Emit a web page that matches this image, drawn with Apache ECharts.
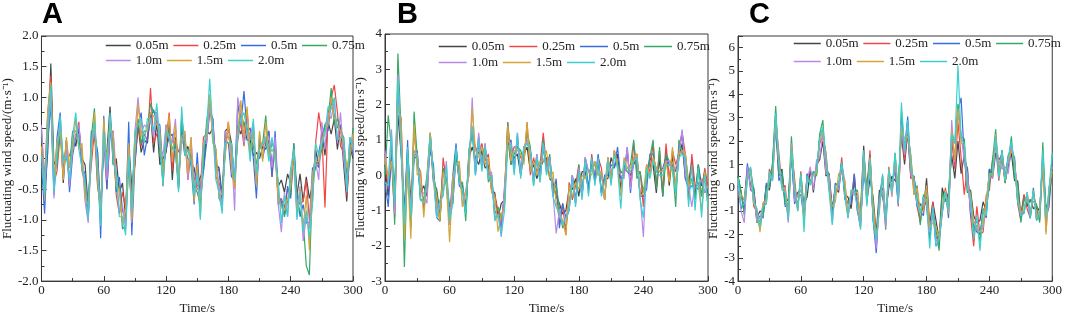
<!DOCTYPE html>
<html lang="en">
<head>
<meta charset="UTF-8">
<title>Fluctuating wind speed</title>
<script src="https://cdn.jsdelivr.net/npm/echarts@6/dist/echarts.min.js"></script>
<style>
    html, body { margin: 0; padding: 0; background: #fff; }
    #chart { width: 1065px; height: 320px; }
</style>
</head>
<body>
<div id="chart"></div>
<script>
// heights of the measuring points, same for the three panels
const heights = ['0.05m', '0.25m', '0.5m', '0.75m', '1.0m', '1.5m', '2.0m'];
const colors = ['#454545', '#f04646', '#3a6ee0', '#36a866', '#b88ae8', '#d6a536', '#3ccfd0'];

// time axis, s
const time = [0,3,6,9,12,15,18,21,24,27,30,33,36,39,42,45,48,51,54,57,60,63,66,69,72,75,78,81,84,87,
    90,93,96,99,102,105,108,111,114,117,120,123,126,129,132,135,138,141,144,147,150,153,156,159,162,165,168,171,174,177,
    180,183,186,189,192,195,198,201,204,207,210,213,216,219,222,225,228,231,234,237,240,243,246,249,252,255,258,261,264,267,
    270,273,276,279,282,285,288,291,294,297,300];

// panel A
const a005 = [0.35,-0.55,0.1,1.55,-0.1,0.0,0.55,-0.4,0.3,-0.45, 0.4,0.2,0.5,0.0,-0.1,-0.8,0.2,0.35,0.1,-0.85,
    0.2,0.1,0.85,-0.1,0.0,-0.55,-0.4,-0.95,0.2,-0.45, -0.1,0.55,0.1,0.3,0.25,0.75,0.1,0.6,-0.1,0.0,
    0.1,0.55,-0.35,0.35,-0.5,0.5,0.05,0.2,-0.1,-0.15, -0.45,-0.3,-0.2,0.45,0.4,0.5,-0.1,-0.15,-0.6,0.45,
    0.5,0.25,-0.45,0.55,0.4,0.6,0.3,0.3,0.05,0.1, 0.0,0.2,0.15,0.3,-0.1,0.1,-0.45,-0.35,-0.55,-0.25,
    -0.4,0.05,-0.6,-0.25,-0.7,-0.3,-0.65,-0.45,0.15,-0.15, 0.45,0.05,0.6,0.4,0.65,0.15,0.55,-0.1,-0.7,0.2,0.0];
const a025 = [0.15,-0.3,0.75,1.35,-0.4,-0.2,0.4,-0.05,0.0,0.05, 0.2,0.35,0.6,-0.2,-0.4,-0.7,-0.1,0.45,-0.45,-0.8,
    0.3,-0.5,0.4,0.45,-0.6,-0.9,-0.55,-0.8,0.0,-0.55, 0.1,0.55,0.2,0.4,0.3,1.15,0.25,0.4,0.45,-0.45,
    0.3,0.75,-0.2,0.3,0.1,0.25,0.4,-0.35,0.1,-0.3, -0.5,-0.5,0.35,0.4,0.8,0.65,-0.3,-0.4,-0.55,0.1,
    0.6,-0.1,-0.35,0.3,0.6,0.2,0.8,0.1,0.5,-0.4, 0.2,0.2,0.3,0.45,-0.3,0.25,-0.75,-0.65,-0.8,-0.5,
    -0.6,0.1,-0.6,-0.75,-0.7,-0.35,-1.0,-0.7,0.25,0.75, 0.4,-0.8,0.7,1.0,1.2,0.75,0.2,0.1,-0.6,0.1,0.25];
const a05 = [-0.1,-0.9,0.25,0.9,-0.6,0.35,0.75,-0.25,0.3,-0.55, 0.05,0.35,0.5,-0.15,-0.25,-1.0,0.45,0.45,0.1,-1.3,
    0.7,-0.5,0.4,0.3,-0.55,-0.3,-0.85,-1.0,0.6,-1.25, -0.05,0.55,0.75,0.05,0.35,0.65,0.8,0.6,0.55,-0.2,
    0.15,0.35,0.4,0.1,-0.45,0.7,0.2,0.0,-0.1,-0.75, 0.1,-0.7,-0.2,0.25,0.75,0.65,-0.1,-0.2,-0.7,0.3,
    0.25,-0.3,-0.35,0.9,0.55,1.1,0.45,0.5,0.0,-0.65, 0.4,0.0,0.25,0.45,-0.3,0.45,-0.6,-0.7,-0.9,-0.45,
    -0.65,0.25,-0.55,-0.95,-0.75,-1.05,-1.05,-0.15,-0.15,0.1, 0.35,0.55,0.45,0.95,0.7,0.5,0.55,0.2,-0.45,0.3,0.05];
const a075 = [0.45,-0.35,0.3,1.05,-0.3,-0.05,0.45,0.0,0.0,-0.15, 0.45,0.45,0.35,-0.1,-0.45,-1.0,0.35,0.82,-0.4,-0.85,
    0.3,0.0,0.55,0.35,-0.5,-0.45,-1.15,-1.1,-0.15,-0.75, 0.35,0.65,0.25,0.45,0.45,0.9,0.75,0.75,0.1,-0.35,
    0.55,0.45,0.15,0.25,-0.45,0.65,0.25,0.1,0.15,-0.45, -0.55,-0.75,-0.05,0.6,0.95,0.35,0.15,-0.65,-0.75,0.35,
    0.35,0.25,-0.45,0.35,0.75,0.55,0.5,0.35,0.2,-0.1, 0.25,0.25,0.7,0.05,0.25,0.15,-0.65,-0.75,-0.95,-0.7,
    -0.55,0.25,-0.75,-0.85,-1.0,-1.75,-1.9,-0.35,-0.15,-0.1, 0.15,0.55,0.65,1.15,0.55,0.65,0.45,0.35,-0.25,-0.05,0.5];
const a10 = [0.55,-0.4,0.45,1.0,-0.65,0.25,0.55,-0.3,0.25,-0.45, 0.15,0.4,0.55,0.0,-0.7,-1.05,0.15,0.5,-0.1,-0.85,
    0.35,-0.35,0.45,0.45,-0.25,-0.85,-0.75,-1.15,0.2,-1.05, 0.45,1.0,0.4,0.55,0.5,0.65,0.35,0.75,0.2,0.05,
    0.55,0.35,0.25,0.65,-0.3,0.25,0.45,-0.35,0.35,-0.4, -0.35,-0.65,0.25,0.25,0.85,0.55,-0.15,-0.45,-0.85,0.45,
    0.35,0.15,-0.85,1.0,0.75,0.25,0.45,0.35,0.6,-0.35, 0.15,0.25,0.35,0.35,-0.15,0.35,-0.75,-1.2,-0.55,-0.95,
    -0.15,-0.15,-0.85,-0.45,-1.35,-0.95,-1.15,-0.25,-0.05,-0.35, 0.6,0.15,0.75,0.65,0.95,0.25,0.75,0.0,-0.45,0.35,0.15];
const a15 = [0.2,-0.65,0.75,1.25,-0.3,0.25,0.45,-0.35,0.35,-0.15, 0.15,0.65,0.15,0.25,-0.65,-0.75,0.05,0.75,-0.35,-0.9,
    0.65,-0.05,0.55,0.35,-0.45,-0.5,-1.05,-0.85,0.25,-1.0, 0.05,0.9,0.35,0.45,0.45,0.75,0.7,0.55,0.45,-0.25,
    0.25,0.7,-0.05,0.55,-0.35,0.35,0.45,-0.25,0.35,-0.7, -0.1,-0.95,0.25,0.35,1.05,0.25,0.15,-0.65,-0.55,0.05,
    0.6,-0.15,-0.5,0.45,0.95,0.35,0.85,0.05,0.55,-0.45, 0.45,-0.05,0.6,0.05,0.15,0.05,-0.65,-0.8,-0.85,-0.65,
    -0.45,0.15,-0.95,-0.5,-1.15,-0.6,-1.5,-0.25,-0.05,-0.05, 0.3,0.45,0.55,1.0,0.65,0.55,0.45,0.25,-0.15,0.05,0.4];
const a20 = [0.05,-0.6,0.55,1.2,-0.55,0.05,0.7,-0.05,0.05,-0.35, 0.35,0.75,0.15,-0.15,-0.35,-1.0,0.25,0.6,-0.15,-1.1,
    0.45,-0.15,0.75,-0.05,-0.25,-0.95,-0.95,-1.25,0.05,-0.85, 0.45,0.55,0.65,0.25,0.65,0.65,0.45,0.9,0.3,-0.45,
    0.45,0.35,0.15,0.15,-0.55,0.85,0.05,0.15,-0.05,-0.6, -0.25,-1.0,0.15,0.45,1.3,0.45,-0.35,-0.55,-0.9,0.25,
    0.25,0.25,-0.35,0.35,0.65,0.75,0.45,-0.05,0.65,-0.25, 0.15,0.25,0.35,-0.05,0.35,-0.05,-0.35,-1.05,-0.6,-0.95,
    -0.15,0.15,-1.0,-0.55,-1.2,-0.85,-1.3,-0.75,0.25,0.05, 0.25,0.4,0.85,0.8,1.0,0.3,0.35,0.35,-0.55,0.35,0.2];

// panel B
const b005 = [0.3,-0.6,0.5,-0.3,1.7,0.6,-1.0,0.7,-0.7,0.5, 0.5,-0.5,-0.3,-0.6,1.0,-0.2,-0.4,-1.1,0.2,-0.1,
    -0.9,-0.8,0.6,-0.1,-0.3,-0.9,0.5,0.8,0.5,0.3, 0.7,0.2,0.3,-0.4,-0.5,-1.2,-0.8,-0.7,1.1,0.3,
    0.5,0.6,0.0,0.6,0.8,0.1,0.3,-0.1,0.2,0.4, 0.5,-0.1,-0.2,-0.6,-0.8,-1.1,-1.0,-0.4,-0.4,-0.1,
    -0.6,0.1,0.1,-0.4,0.4,-0.2,0.4,-0.5,-0.1,-0.1, 0.5,0.2,0.6,-0.4,0.3,0.1,0.0,0.3,0.5,-0.6,
    -0.4,-0.2,0.5,0.3,-0.5,0.5,-0.6,0.7,-0.3,0.6, -0.4,0.5,0.9,-0.1,-0.2,0.4,-0.6,0.3,-0.3,0.1,-0.6];
const b025 = [0.6,-0.4,0.5,-1.2,2.0,1.6,-1.3,0.2,-1.2,1.3, 0.3,0.1,-1.0,-0.2,1.2,-0.1,-0.7,-1.3,0.5,-0.2,
    -1.2,-0.6,0.8,-0.1,-0.4,-1.0,0.7,1.2,0.8,0.6, 0.9,0.4,0.6,-0.4,-0.6,-1.0,-1.4,-0.5,1.5,0.5,
    0.8,0.8,0.5,0.4,1.5,0.0,0.5,0.1,0.3,1.2, 0.2,0.5,-0.4,-0.3,-1.4,-0.8,-1.7,-0.2,-0.7,-0.3,
    0.3,-0.5,0.4,-0.5,0.6,-0.1,0.5,0.2,-0.7,0.5, -0.1,0.7,0.3,0.1,0.0,0.7,-0.3,0.9,0.1,0.1,
    -0.9,0.3,0.1,0.9,-0.3,0.7,-0.5,0.9,-0.1,0.7, 0.3,0.6,1.2,0.6,-0.7,0.6,-0.3,-0.2,-0.6,0.2,-0.3];
const b05 = [-0.2,-0.9,0.6,-0.6,2.5,0.7,-1.2,1.0,-1.5,0.5, 0.7,-0.7,-0.7,-0.2,0.7,0.3,-1.2,-1.3,0.1,-0.1,
    -1.2,0.0,0.9,-0.3,-0.4,-1.1,0.5,1.3,0.0,0.9, 0.3,0.8,0.0,0.0,-1.2,-1.1,-1.5,-0.4,0.9,1.0,
    0.2,1.1,0.1,0.8,0.9,0.7,-0.1,0.5,-0.1,0.8, 0.1,0.4,-0.6,-0.1,-1.5,-0.8,-1.2,-1.0,0.0,-0.7,
    0.1,-0.6,0.5,-0.4,0.5,-0.1,0.6,-0.5,0.0,0.0, 0.3,0.2,0.8,-0.1,0.0,0.8,-0.5,0.5,0.6,-0.6,
    -0.6,-0.4,0.6,0.6,0.1,0.1,0.2,0.5,0.3,0.3, 0.1,0.7,1.25,-0.1,-0.4,-0.3,-0.3,-0.4,-0.2,-0.5,-0.4];
const b075 = [0.0,1.7,0.8,-1.4,3.45,1.2,-2.6,0.6,-1.5,1.8, 0.5,-0.7,-0.7,0.0,1.2,0.0,-0.5,-1.3,0.2,-0.3,
    -1.4,-0.2,0.7,-0.2,-0.2,-1.3,0.7,1.3,0.2,1.1, 0.2,0.9,-0.2,0.0,-1.1,-0.9,-1.2,-0.8,1.5,0.3,
    0.6,0.8,0.7,0.4,1.2,0.8,-0.3,0.6,-0.1,1.0, 0.2,0.6,-0.5,-0.3,-0.9,-1.5,-1.4,-0.9,0.0,-0.8,
    0.3,-0.6,0.5,0.1,0.2,0.3,0.0,0.1,-0.7,0.5, -0.1,0.6,0.3,0.1,0.1,0.2,0.3,1.0,-0.1,0.1,
    -0.5,-0.2,0.5,1.0,-0.4,0.8,-0.6,0.6,0.4,0.3, -0.9,1.0,0.6,0.6,-0.2,-0.1,-0.7,0.3,-0.6,0.1,-0.9];
const b10 = [0.7,-0.2,1.3,-1.1,2.85,0.8,-1.4,0.3,-1.0,0.7, 0.6,-0.5,-0.5,-0.8,1.1,-0.1,-1.2,-0.9,-0.5,0.4,
    -1.4,0.0,0.3,0.3,-0.9,-0.4,0.0,2.2,0.1,1.2, 0.2,0.9,-0.1,0.1,-1.2,-1.1,-1.75,-0.3,1.0,0.9,
    0.1,1.2,0.0,0.8,1.0,0.7,-0.2,0.6,-0.2,0.9, 0.1,0.5,-0.5,-1.65,-1.0,-1.3,-1.3,-0.9,0.0,-0.8,
    0.2,-0.6,0.5,0.1,0.1,0.4,0.0,0.1,-0.7,0.5, -0.2,0.7,0.2,0.0,-0.1,0.8,-0.4,0.4,0.6,-0.6,
    -1.75,0.3,0.0,0.5,0.2,0.1,0.1,0.4,0.4,0.2, 0.2,0.6,1.3,0.0,-0.3,-0.9,-0.2,-0.3,-0.1,-0.5,-0.3];
const b15 = [0.5,-0.1,0.4,-0.6,2.0,1.5,-1.8,0.1,-1.8,1.45, 0.0,0.1,-1.2,-0.1,1.2,-0.1,-0.6,-1.3,0.1,-0.2,
    -1.9,-0.1,0.3,0.4,-0.9,-0.5,0.0,1.9,0.7,0.5, 0.8,0.3,0.5,-0.5,-0.6,-1.6,-1.1,-0.9,1.4,0.4,
    0.7,0.7,0.6,0.3,1.5,0.1,0.4,0.0,0.4,0.4, 0.7,-0.1,0.1,-0.8,-1.1,-1.3,-1.7,-0.3,-0.6,-0.2,
    -0.4,0.0,-0.1,0.1,0.0,0.4,0.0,0.1,-0.7,0.5, -0.2,0.7,0.3,-0.6,0.5,0.2,0.2,0.5,0.6,-0.6,
    -0.5,0.3,0.0,0.5,0.2,0.1,0.1,0.4,-0.2,0.8, -0.4,0.6,0.7,0.6,-0.3,-0.2,-0.2,-0.3,-1.0,0.1,-0.9];
const b20 = [-0.2,-0.3,1.2,-0.8,2.7,0.8,-1.4,0.8,-1.2,0.6, 0.6,-0.7,-0.8,-0.2,1.1,0.0,-1.2,-0.7,-0.6,0.3,
    -1.3,-0.8,0.8,-0.2,-0.4,-1.1,0.7,1.4,0.0,1.0, 0.1,0.8,-0.1,0.0,-1.3,-1.1,-1.7,-1.0,0.8,0.9,
    0.0,1.2,-0.1,0.8,0.9,0.7,-0.3,0.5,-0.2,0.9, 0.0,0.4,-0.6,-0.9,-1.1,-1.4,-1.2,-1.0,-0.1,-0.9,
    0.1,-0.7,0.4,-0.6,0.5,-0.3,0.5,-0.6,-0.2,0.4, -0.3,0.6,0.2,-0.95,0.4,0.1,0.1,0.4,0.5,-0.7,
    -1.2,0.2,-0.1,0.4,0.1,0.0,0.0,0.3,0.3,0.1, -0.5,0.5,0.6,0.5,-0.9,0.3,-1.0,0.2,-1.2,0.0,-0.9];

// panel C
const c005 = [0.5,-0.2,-1.0,0.9,0.1,0.0,-1.3,-1.0,-1.1,0.1, -0.1,0.9,2.6,0.5,0.8,-0.6,-0.5,1.4,-0.5,-0.2,
    -0.1,-0.7,-0.4,0.8,-0.2,1.0,1.2,2.0,0.5,0.6, -0.9,0.0,-0.2,1.0,-0.3,-0.4,-0.9,0.3,-0.7,-1.0,
    1.8,-0.6,0.4,-0.4,-2.0,-0.1,-0.4,-1.0,0.0,0.5, 0.3,0.2,2.3,1.0,2.4,0.4,0.5,-0.6,-0.7,-1.0,
    0.4,-1.6,-0.6,-1.4,-2.2,0.0,-0.6,-0.2,1.4,0.4, 2.0,0.6,1.4,-0.2,-0.1,-1.2,-1.5,-1.4,-0.6,-1.0,
    0.8,0.4,1.5,1.2,1.4,0.3,0.9,1.5,0.3,0.3, -1.2,-0.3,-0.8,-0.5,-0.9,-0.8,-1.0,1.2,-0.9,-0.5,0.8];
const c025 = [-0.4,-0.4,-0.5,0.6,0.85,-0.8,-1.0,-1.8,-0.7,-0.7, 0.8,0.4,2.9,1.5,0.0,0.1,-1.4,1.6,0.4,-1.0,
    0.7,-1.3,0.6,0.2,0.7,0.6,1.9,2.2,1.5,0.0, -1.2,0.2,0.0,1.3,-0.3,-0.7,-0.7,0.6,-1.0,-1.7,
    1.5,-0.1,1.6,-1.3,-2.3,-0.4,0.0,-1.5,0.9,-0.2, 1.2,-0.8,2.6,1.2,2.6,0.4,0.5,-0.8,-1.5,-0.4,
    -0.8,-2.1,-0.6,-2.2,-2.0,-0.9,0.0,-0.9,2.0,0.8, 2.8,1.3,-0.3,0.9,-1.2,-2.5,-0.8,-2.0,-1.9,-0.3,
    -0.1,1.2,1.8,0.3,1.3,0.2,1.3,1.7,1.2,-0.7, -1.4,-0.3,-0.9,-1.3,-0.2,-0.9,-1.4,1.0,-1.6,-0.1,1.1];
const c05 = [0.1,-0.9,-0.6,1.05,-0.1,-0.2,-1.4,-1.2,-1.3,0.2, 0.0,1.0,3.2,0.3,0.6,-0.8,-0.8,1.7,-0.7,-0.3,
    -0.3,-1.3,0.6,0.2,0.6,0.6,2.2,2.5,0.7,0.5, -1.2,0.2,0.0,1.1,-0.5,-0.6,-0.7,0.6,-1.0,-1.4,
    0.6,-0.2,1.4,-1.4,-2.8,-0.4,0.5,-1.3,0.2,0.3, 0.7,-0.7,3.0,1.6,3.05,0.8,0.3,-0.8,-1.0,-1.2,
    0.1,-2.2,-0.9,-2.5,-2.3,-1.1,-0.1,-1.3,2.3,1.2, 3.3,3.85,1.3,0.8,-1.1,-1.6,-1.9,-2.0,-1.0,-1.3,
    0.8,0.6,2.2,0.5,1.6,0.4,1.4,1.6,1.3,-0.6, -1.0,-1.1,-0.3,-1.3,0.0,-1.4,-1.1,1.3,-1.3,-0.8,1.3];
const c075 = [0.5,-0.2,-1.2,0.4,0.8,-0.1,-1.5,-1.4,-1.2,0.0, 0.0,1.1,3.5,0.6,0.7,-0.7,-0.7,2.2,0.1,-0.9,
    0.6,-0.8,0.4,0.2,0.7,0.5,2.3,2.9,0.8,0.6, -1.3,-0.1,0.0,1.1,-0.2,-1.2,-0.2,-0.2,-0.1,-1.5,
    1.0,0.0,1.3,-1.3,-2.5,-0.3,-0.1,-1.8,0.7,-0.2, 1.5,-0.5,3.3,1.6,2.4,1.4,-0.3,0.1,-1.6,-0.3,
    -0.4,-2.1,-1.0,-1.8,-2.7,-0.2,-0.6,-0.4,2.4,1.9, 3.6,2.2,2.1,0.1,-0.2,-1.9,-1.6,-2.3,-0.9,-1.0,
    0.2,1.2,2.5,0.5,1.6,0.2,1.1,2.2,0.4,0.2, -1.5,-0.5,-0.7,-0.5,-0.6,-0.7,-1.5,1.95,-1.1,-0.5,1.4];
const c10 = [0.2,-1.0,-1.5,0.9,0.0,-0.3,-1.4,-1.3,-0.7,-0.5, 0.5,0.3,2.8,1.0,0.0,0.0,-1.5,1.9,-0.6,-0.3,
    -0.1,-0.9,0.3,0.9,-0.1,1.2,1.3,2.3,0.6,0.5, -1.5,0.0,-0.1,1.0,0.3,-1.3,-0.2,-0.3,-0.4,-1.6,
    0.8,-0.2,0.7,-0.8,-2.6,-0.5,-0.1,-1.7,0.7,-0.4, 1.3,-0.7,2.7,1.4,2.7,0.6,0.1,-0.6,-1.1,-0.5,
    -0.5,-1.9,-1.0,-2.3,-2.2,-0.9,-0.2,-1.1,2.9,1.1, 3.2,2.3,1.1,0.6,-1.0,-1.4,-1.8,-1.9,-1.7,-0.6,
    0.5,0.4,1.9,1.2,0.8,0.9,0.6,1.8,1.1,-0.5, -1.1,-1.0,-0.2,-1.2,-0.2,-1.3,-1.0,1.4,-1.9,0.0,0.9];
const c15 = [-0.3,-0.3,-0.5,0.5,0.7,-0.7,-0.9,-1.9,-0.6,-0.6, 0.6,0.4,3.1,1.1,0.0,-0.1,-1.3,1.8,0.1,-0.9,
    0.5,-1.5,0.4,0.2,0.6,0.6,2.0,2.4,1.3,-0.1, -0.8,-0.6,0.6,0.6,0.3,-1.2,-0.1,-0.2,-0.2,-1.3,
    1.5,-0.7,1.3,-0.7,-2.1,-1.0,0.5,-1.3,0.8,-0.3, 1.3,0.0,2.5,2.1,2.2,1.3,-0.3,0.0,-1.0,-1.0,
    0.1,-1.7,-1.5,-1.7,-2.1,-0.9,-0.1,-1.1,2.5,1.2, 3.4,1.9,1.8,0.0,-0.3,-1.5,-1.7,-1.9,-1.6,-0.5,
    0.6,0.5,2.3,0.5,1.5,0.3,1.2,1.6,1.1,-0.5, -1.0,-1.0,-0.2,-1.2,-0.1,-1.3,-1.0,1.2,-2.0,0.0,0.7];
const c20 = [0.4,-0.8,-0.7,0.4,0.9,-0.6,-0.9,-1.7,-0.8,-0.7, 0.7,0.3,3.2,1.2,-0.1,-0.2,-1.4,1.7,0.0,-1.0,
    0.6,-1.9,0.5,0.1,0.6,0.7,2.1,2.6,1.3,-0.2, -1.6,0.1,0.1,1.1,-0.4,-1.3,-0.1,-0.1,-0.9,-1.8,
    1.6,-0.8,1.2,-1.4,-2.2,-0.9,0.6,-1.4,0.8,-0.2, 1.5,-0.7,3.65,1.6,2.9,0.8,0.4,-0.7,-1.1,-0.4,
    -0.6,-2.6,-0.8,-2.5,-2.2,-1.0,-0.2,-1.0,2.3,1.9, 5.25,2.1,1.9,-0.1,-0.4,-2.2,-1.2,-2.7,-1.0,-1.2,
    0.6,0.6,2.2,0.4,1.6,0.3,1.3,2.0,1.0,-0.6, -1.2,-1.1,-0.2,-1.3,-0.1,-1.4,-1.2,1.6,-1.3,0.0,1.5];

const panelA = [a005, a025, a05, a075, a10, a15, a20];
const panelB = [b005, b025, b05, b075, b10, b15, b20];
const panelC = [c005, c025, c05, c075, c10, c15, c20];

// y axis ticks of the three panels
const yMin = [-2, -3, -4];
const yMax = [2, 4, 6.5];
const yStep = [0.5, 1, 1];

const serif = 'Liberation Serif';
const axisColor = '#3a3a3a';
const yName = 'Fluctuating wind speed/(m·s⁻¹)';

// legend text widths so the two rows line up in columns
const legendWidth = { '0.05m': 33, '0.25m': 33, '0.5m': 26, '0.75m': 33, '1.0m': 33, '1.5m': 33, '2.0m': 26 };

let myChart = echarts.init(document.getElementById('chart'), null, { renderer: 'canvas' });

let grids = [
    { left: 36, top: 36, width: 317, height: 262 },
    { left: 385, top: 34, width: 323, height: 264 },
    { left: 738, top: 36, width: 316, height: 262 }
];
grids.forEach(g => {
    g.show = true;
    g.borderColor = axisColor;
    g.borderWidth = 1;
    g.backgroundColor = 'transparent';
});

let xAxes = [0, 1, 2].map(i => ({
    type: 'value',
    gridIndex: i,
    min: 0,
    max: 300,
    interval: 60,
    name: 'Time/s',
    nameLocation: 'middle',
    nameGap: 10,
    nameTextStyle: { fontFamily: serif, fontSize: 13, color: '#222' },
    axisLine: { onZero: false, lineStyle: { color: axisColor, width: 1 } },
    axisTick: { inside: true, length: 5, lineStyle: { color: axisColor } },
    minorTick: { show: true, splitNumber: 2, length: 3, lineStyle: { color: axisColor } },
    axisLabel: { fontFamily: serif, fontSize: 13, color: '#222', margin: 3 },
    splitLine: { show: false }
}));

let yGaps = [19, 10, 13];
let yAxes = [0, 1, 2].map(i => ({
    type: 'value',
    gridIndex: i,
    min: yMin[i],
    max: yMax[i],
    interval: yStep[i],
    name: yName,
    nameLocation: 'middle',
    nameRotate: 90,
    nameGap: yGaps[i],
    nameTextStyle: { fontFamily: serif, fontSize: 13, color: '#222' },
    axisLine: { onZero: false, lineStyle: { color: axisColor, width: 1 } },
    axisTick: { inside: true, length: 5, lineStyle: { color: axisColor } },
    minorTick: { show: true, splitNumber: 2, length: 3, lineStyle: { color: axisColor } },
    axisLabel: {
        fontFamily: serif, fontSize: 13, color: '#222', margin: 3,
        formatter: function (v) {
            if (i === 0) return v.toFixed(1);
            return Number.isInteger(v) ? String(v) : '';
        }
    },
    splitLine: { show: false }
}));

// two legend rows per panel, only the line part of the icon is kept
let legendPos = [
    { left: 105, rows: [39, 54], itemWidth: 25 },
    { left: 438, rows: [40, 56], itemWidth: 28 },
    { left: 793, rows: [37, 55], itemWidth: 27 }
];
let legends = [];
legendPos.forEach(p => {
    [heights.slice(0, 4), heights.slice(4)].forEach((names, r) => {
        legends.push({
            left: p.left,
            top: p.rows[r],
            padding: 0,
            itemGap: 4,
            itemWidth: p.itemWidth,
            itemHeight: 14,
            itemStyle: { opacity: 0 },
            lineStyle: { width: 1.5 },
            textStyle: { fontFamily: serif, fontSize: 13, color: '#222' },
            data: names.map(n => ({ name: n, textStyle: { width: legendWidth[n] } }))
        });
    });
});

let series = [];
[panelA, panelB, panelC].forEach((panel, gi) => {
    panel.forEach((vals, k) => {
        series.push({
            name: heights[k],
            type: 'line',
            xAxisIndex: gi,
            yAxisIndex: gi,
            showSymbol: false,
            symbol: 'none',
            lineStyle: { width: 1.2, color: colors[k] },
            itemStyle: { color: colors[k] },
            data: vals.slice(0, time.length).map((v, j) => [time[j], v])
        });
    });
});

let option = {
    animation: false,
    backgroundColor: '#fff',
    color: colors,
    title: [
        { text: 'A', left: 42, top: 0 },
        { text: 'B', left: 397, top: 0 },
        { text: 'C', left: 749, top: 0 }
    ].map(t => Object.assign(t, {
        padding: 0,
        textStyle: { fontFamily: 'Liberation Sans', fontSize: 29, fontWeight: 'bold', color: '#000' }
    })),
    grid: grids,
    xAxis: xAxes,
    yAxis: yAxes,
    legend: legends,
    series: series
};
myChart.setOption(option);
</script>
</body>
</html>
